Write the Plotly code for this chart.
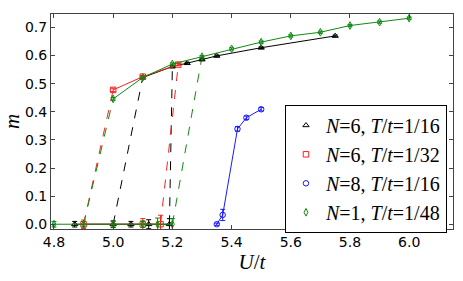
import plotly.graph_objects as go

# ---- data ----
# N=6, T/t=1/16 (black)
b_up_U = [5.1, 5.2, 5.25, 5.3, 5.35, 5.5, 5.75]
b_up_m = [0.522, 0.561, 0.573, 0.586, 0.599, 0.628, 0.670]
b_up_e = [0.004, 0.004, 0.003, 0.003, 0.003, 0.003, 0.003]
b_lo_U = [4.87, 5.0, 5.06, 5.12, 5.19]
b_lo_m = [0.0, 0.0, 0.0, 0.0, 0.0]
b_lo_e = [0.01, 0.012, 0.01, 0.016, 0.02]

# N=6, T/t=1/32 (red)
r_up_U = [5.0, 5.1, 5.22]
r_up_m = [0.478, 0.525, 0.568]
r_up_e = [0.006, 0.004, 0.004]
r_lo_U = [4.9, 5.1, 5.16]
r_lo_m = [0.0, 0.0, 0.0]
r_lo_e = [0.015, 0.02, 0.032]

# N=8, T/t=1/16 (blue)
u_U = [5.35, 5.37, 5.42, 5.45, 5.5]
u_m = [0.0, 0.033, 0.339, 0.379, 0.409]
u_e = [0.004, 0.02, 0.008, 0.006, 0.006]

# N=1, T/t=1/48 (green)
g_up_U = [5.0, 5.1, 5.2, 5.3, 5.4, 5.5, 5.6, 5.7, 5.8, 5.9, 6.0]
g_up_m = [0.446, 0.522, 0.570, 0.596, 0.624, 0.648, 0.670, 0.683, 0.707, 0.719, 0.733]
g_up_e = [0.005, 0.004, 0.004, 0.004, 0.004, 0.004, 0.004, 0.004, 0.004, 0.004, 0.004]
g_lo_U = [4.8, 4.9, 5.0, 5.1, 5.15, 5.2]
g_lo_m = [0.0, 0.0, 0.0, 0.0, 0.0, 0.0]
g_lo_e = [0.01, 0.01, 0.01, 0.012, 0.022, 0.02]

# dashed jumps: (from lower-branch U, to upper-branch U)
b_jumps = [(5.0, 5.1), (5.19, 5.2)]
r_jumps = [(4.9, 5.0), (5.16, 5.22)]
g_jumps = [(4.9, 5.0), (5.2, 5.3)]

labels = ["<i>N</i>=6, <i>T</i>/<i>t</i>=1/16",
          "<i>N</i>=6, <i>T</i>/<i>t</i>=1/32",
          "<i>N</i>=8, <i>T</i>/<i>t</i>=1/16",
          "<i>N</i>=1, <i>T</i>/<i>t</i>=1/48"]

fig = go.Figure()

MS = 5.5

def add_series(U, m, e, color, symbol):
    fig.add_trace(go.Scatter(
        x=U, y=m, mode="lines+markers",
        line=dict(color=color, width=1),
        marker=dict(symbol=symbol, size=MS, color=color,
                    line=dict(color=color, width=1)),
        error_y=dict(type="data", array=e, color=color, thickness=1, width=2.5),
        showlegend=False))

def add_jumps(jumps, loU, lom, upU, upm, color):
    for a, b in jumps:
        ya = lom[loU.index(a)]
        yb = upm[upU.index(b)]
        fig.add_trace(go.Scatter(x=[a, b], y=[ya, yb], mode="lines",
                                 line=dict(color=color, width=1, dash="dash"),
                                 showlegend=False, hoverinfo="skip"))

blk, red, blu, grn = "#000000", "#ff2020", "#1a1aff", "#108a10"

add_jumps(b_jumps, b_lo_U, b_lo_m, b_up_U, b_up_m, blk)
add_jumps(r_jumps, r_lo_U, r_lo_m, r_up_U, r_up_m, red)
add_jumps(g_jumps, g_lo_U, g_lo_m, g_up_U, g_up_m, grn)

add_series(b_lo_U, b_lo_m, b_lo_e, blk, "triangle-up-open")
add_series(r_lo_U, r_lo_m, r_lo_e, red, "square-open")
add_series(g_lo_U, g_lo_m, g_lo_e, grn, "diamond-tall-open")
add_series(b_up_U, b_up_m, b_up_e, blk, "triangle-up-open")
add_series(r_up_U, r_up_m, r_up_e, red, "square-open")
add_series(g_up_U, g_up_m, g_up_e, grn, "diamond-tall-open")
add_series(u_U, u_m, u_e, blu, "circle-open")

# legend entries (single point placed outside the visible range)
for lab, col, sym in zip(labels, [blk, red, blu, grn],
                         ["triangle-up-open", "square-open", "circle-open", "diamond-tall-open"]):
    fig.add_trace(go.Scatter(x=[7.0], y=[0.3], mode="markers", name=lab,
                             marker=dict(symbol=sym, size=MS, color=col,
                                         line=dict(color=col, width=1)),
                             hoverinfo="skip"))

fig.update_layout(
    width=463, height=281,
    margin=dict(l=51, r=10, t=14, b=52),
    plot_bgcolor="white", paper_bgcolor="white",
    font=dict(family="DejaVu Sans", size=14, color="black"),
    legend=dict(x=0.985, y=0.28, xanchor="right", yanchor="middle",
                bordercolor="black", borderwidth=1, bgcolor="white",
                font=dict(family="Liberation Serif", size=20),
                tracegroupgap=0, itemwidth=30),
    xaxis=dict(range=[4.79, 6.148], tickvals=[4.8, 5.0, 5.2, 5.4, 5.6, 5.8, 6.0],
               ticktext=["4.8", "5.0", "5.2", "5.4", "5.6", "5.8", "6.0"],
               ticks="inside", ticklen=4, tickcolor="#444", mirror="ticks",
               showline=True, linecolor="#444", linewidth=1, showgrid=False,
               zeroline=False, automargin=False,
               title=dict(text="<i>U</i>/<i>t</i>", font=dict(family="Liberation Serif", size=21),
                          standoff=4)),
    yaxis=dict(range=[-0.017, 0.748], tickvals=[0, 0.1, 0.2, 0.3, 0.4, 0.5, 0.6, 0.7],
               ticktext=["0.0", "0.1", "0.2", "0.3", "0.4", "0.5", "0.6", "0.7"],
               ticks="inside", ticklen=4, tickcolor="#444", mirror="ticks",
               showline=True, linecolor="#444", linewidth=1, showgrid=False,
               zeroline=False, automargin=False,
               title=dict(text="<i>m</i>", font=dict(family="Liberation Serif", size=21),
                          standoff=8)),
)

fig.write_html("out.html", config={"displayModeBar": False},
               post_script="document.body.style.margin='0px';")
